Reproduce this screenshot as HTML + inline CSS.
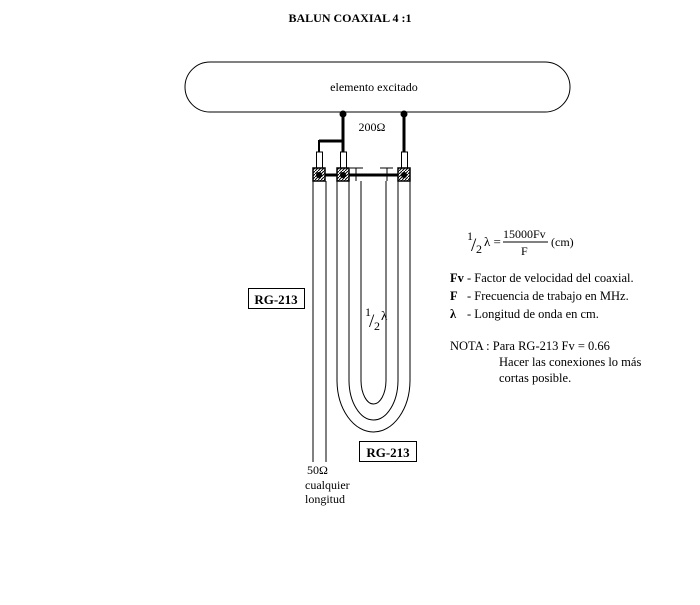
<!DOCTYPE html>
<html><head><style>
body{margin:0;background:#fff;width:700px;height:600px;overflow:hidden}
svg text{font-family:"Liberation Serif",serif;fill:#000}
</style></head><body>
<svg width="700" height="600" xmlns="http://www.w3.org/2000/svg">
<defs><pattern id="h" width="3" height="3" patternUnits="userSpaceOnUse"><rect width="3" height="3" fill="#fff"/><path d="M0,3L3,0" stroke="#000" stroke-width="1"/></pattern></defs>
<text x="350" y="22" font-size="12" font-weight="bold" text-anchor="middle">BALUN COAXIAL 4 :1</text>
<rect x="185" y="62" width="385" height="50" rx="25" fill="#fff" stroke="#000" stroke-width="1"/>
<text x="374" y="91" font-size="12" text-anchor="middle">elemento excitado</text>
<text x="372" y="131" font-size="12" text-anchor="middle">200Ω</text>
<circle cx="343" cy="114" r="3.5"/><circle cx="404" cy="114" r="3.5"/>
<g stroke="#000" fill="none">
<path d="M343,114V168M404,114V168M343,141H319" stroke-width="3"/>
<path d="M319,140V152" stroke-width="2"/>
<rect x="316.5" y="152" width="6" height="17" fill="#fff"/>
<rect x="340.5" y="152" width="6" height="17" fill="#fff"/>
<rect x="401.5" y="152" width="6" height="17" fill="#fff"/>
<path d="M325,175H404" stroke-width="3"/>
<path d="M313,181V462M326,181V462" stroke-width="1"/>
<path d="M337,181V380A36.5,52 0 0 0 410,380V181" />
<path d="M349,181V380A24.5,40 0 0 0 398,380V181" />
<path d="M361,181V380A12.5,24 0 0 0 386,380V181" />
<path d="M356,168V181M387,168V181M350,168H363M380,168H393" stroke-width="1"/>
</g>
<g stroke="#000" stroke-width="1.5">
<rect x="313" y="168" width="12" height="13" fill="url(#h)"/>
<rect x="337" y="168" width="12" height="13" fill="url(#h)"/>
<rect x="398" y="168" width="12" height="13" fill="url(#h)"/>
</g>
<circle cx="319" cy="175" r="3"/><circle cx="343" cy="175" r="3"/><circle cx="404" cy="175" r="3"/>
<rect x="248.5" y="288.5" width="56" height="20" fill="#fff" stroke="#000"/>
<text x="276" y="304" font-size="13" font-weight="bold" text-anchor="middle">RG-213</text>
<rect x="359.5" y="441.5" width="57" height="20" fill="#fff" stroke="#000"/>
<text x="388" y="457" font-size="13" font-weight="bold" text-anchor="middle">RG-213</text>
<text x="365" y="316" font-size="12">1</text><text x="369" y="327" font-size="19">/</text><text x="374" y="330" font-size="12">2</text><text x="381" y="320" font-size="13">λ</text>
<text x="307" y="474" font-size="12">50Ω</text>
<text x="305" y="489" font-size="12">cualquier</text>
<text x="305" y="503" font-size="12">longitud</text>
<text x="467" y="240" font-size="12">1</text><text x="471" y="251" font-size="19">/</text><text x="476" y="253" font-size="12">2</text><text x="484" y="246" font-size="13">λ =</text>
<text x="503" y="238" font-size="12">15000Fv</text>
<line x1="503" y1="242" x2="548" y2="242" stroke="#000"/>
<text x="521" y="255" font-size="12">F</text>
<text x="551" y="246" font-size="12">(cm)</text>
<g font-size="12.5">
<text x="450" y="282" font-weight="bold">Fv</text><text x="467" y="282">- Factor de velocidad del coaxial.</text>
<text x="450" y="300" font-weight="bold">F</text><text x="467" y="300">- Frecuencia de trabajo en MHz.</text>
<text x="450" y="318" font-weight="bold">λ</text><text x="467" y="318">- Longitud de onda en cm.</text>
<text x="450" y="350">NOTA : Para RG-213 Fv = 0.66</text>
<text x="499" y="366">Hacer las conexiones lo más</text>
<text x="499" y="382">cortas posible.</text>
</g>
</svg>
</body></html>
